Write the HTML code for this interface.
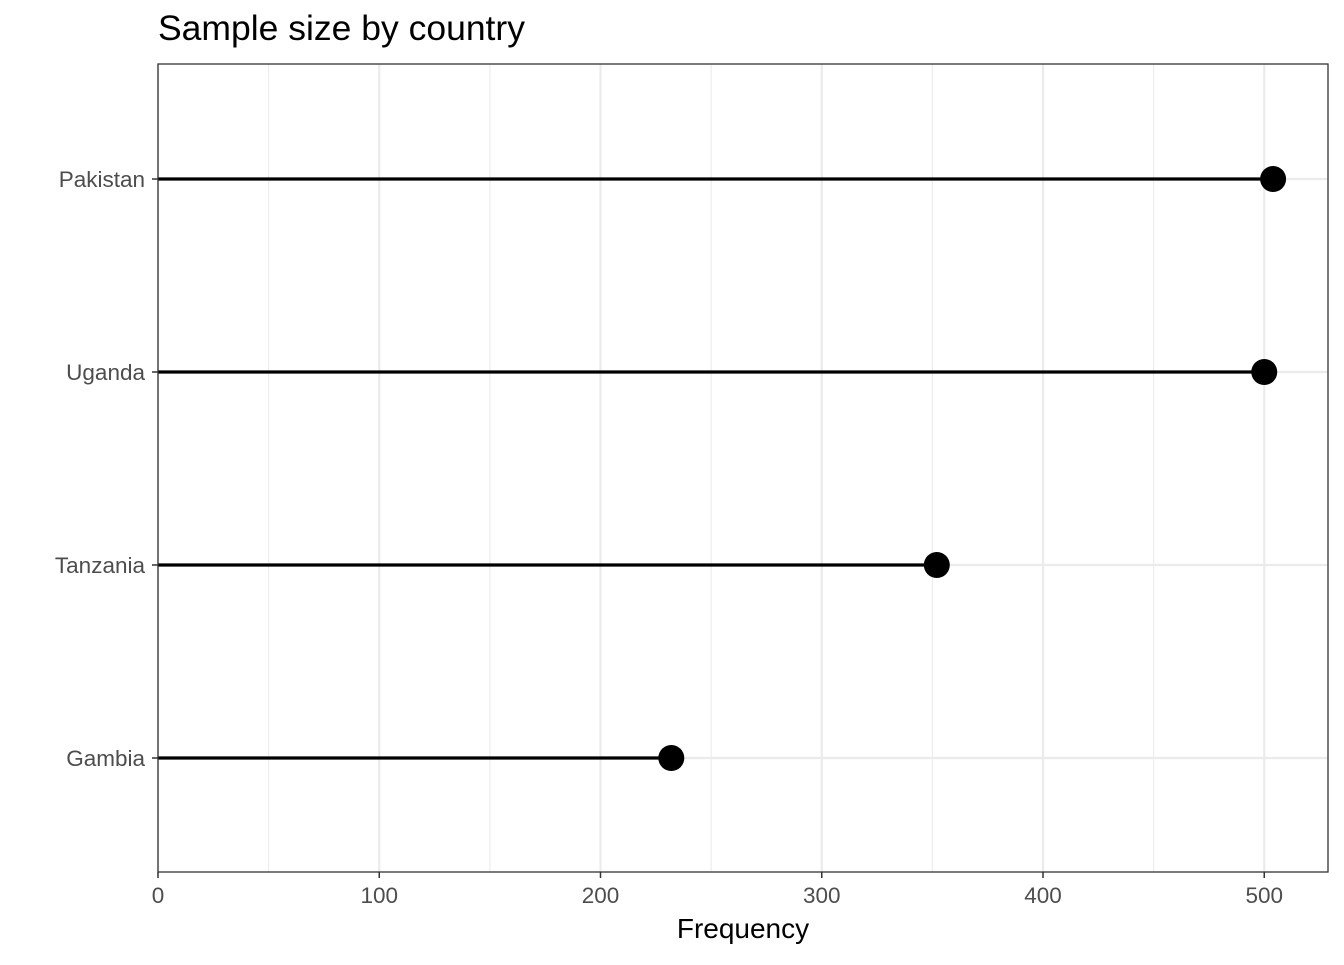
<!DOCTYPE html>
<html><head><meta charset="utf-8"><style>
body{margin:0;background:#fff;font-family:"Liberation Sans",sans-serif;}
</style></head><body>
<svg id="chart" width="1344" height="960" xmlns="http://www.w3.org/2000/svg"></svg>
<script>
const categories = ["Gambia","Tanzania","Uganda","Pakistan"];
const values = [232, 352, 500, 504];
const xTicks = [0,100,200,300,400,500];
const xMinor = [50,150,250,350,450];

const svg = document.getElementById('chart');
const NS = 'http://www.w3.org/2000/svg';
const L=158,R=1328,T=64,B=872;
const x = v => L + v*2.2125;
const y = i => 758 - i*193;
function mk(tag, attrs, name, text){
  const e=document.createElementNS(NS,tag);
  for(const k in attrs) e.setAttribute(k,attrs[k]);
  
  
  if(text!==undefined) e.textContent=text;
  svg.appendChild(e); return e;
}
mk('rect',{x:L,y:T,width:R-L,height:B-T,fill:'#fff'},'plot-panel');
xMinor.forEach(v=>mk('line',{x1:x(v),x2:x(v),y1:T,y2:B,stroke:'#ebebeb','stroke-width':1.1},'minor-gridline'));
xTicks.forEach(v=>mk('line',{x1:x(v),x2:x(v),y1:T,y2:B,stroke:'#ebebeb','stroke-width':2.2},'major-gridline'));
categories.forEach((c,i)=>mk('line',{x1:L,x2:R,y1:y(i),y2:y(i),stroke:'#ebebeb','stroke-width':2.2},'y-gridline'));
categories.forEach((c,i)=>{
  mk('line',{x1:x(0),x2:x(values[i]),y1:y(i),y2:y(i),stroke:'#000','stroke-width':3.2},'stem-'+c.toLowerCase());
  mk('circle',{cx:x(values[i]),cy:y(i),r:13,fill:'#000'},'point-'+c.toLowerCase());
  mk('line',{x1:L-6,x2:L,y1:y(i),y2:y(i),stroke:'#333','stroke-width':1.5},'y-tick');
  mk('text',{x:L-13,y:y(i)+8,'text-anchor':'end','font-size':22.5,fill:'#4d4d4d'},'y-tick-label',c);
});
mk('rect',{x:L,y:T,width:R-L,height:B-T,fill:'none',stroke:'#333','stroke-width':1.3},'panel-border');
xTicks.forEach(v=>{
  mk('line',{x1:x(v),x2:x(v),y1:B,y2:B+6,stroke:'#333','stroke-width':1.5},'x-tick');
  mk('text',{x:x(v),y:B+31,'text-anchor':'middle','font-size':22.5,fill:'#4d4d4d'},'x-tick-label',String(v));
});
mk('text',{x:(L+R)/2,y:938,'text-anchor':'middle','font-size':28,fill:'#000'},'x-axis-title','Frequency');
mk('text',{x:158,y:40,'font-size':35.5,fill:'#000'},'chart-title','Sample size by country');
</script>
</body></html>
